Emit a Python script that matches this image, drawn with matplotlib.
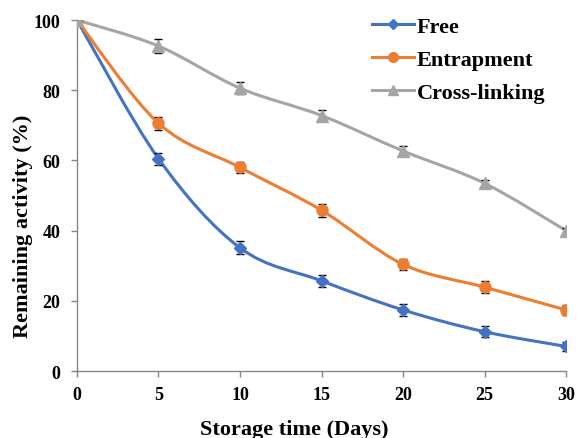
import matplotlib
matplotlib.use("Agg")
import matplotlib.pyplot as plt
import numpy as np
from matplotlib.path import Path
from matplotlib.patches import PathPatch
from matplotlib.lines import Line2D

# data
days = [0, 5, 10, 15, 20, 25, 30]
free = [100, 60.5, 35.1, 25.7, 17.4, 11.2, 7.0]
free_err = [0, 1.7, 1.9, 1.7, 1.6, 1.6, 1.3]
entrap = [100, 70.6, 58.0, 45.8, 30.4, 23.9, 17.4]
entrap_err = [0, 1.8, 1.6, 1.8, 1.6, 1.8, 1.5]
cross = [100, 92.6, 80.6, 72.8, 62.7, 53.5, 40.0]
cross_err = [0, 2.0, 1.8, 1.5, 1.3, 1.0, 0.8]

plt.rcParams['font.family'] = ['Liberation Serif', 'DejaVu Serif']
plt.rcParams['font.weight'] = 'bold'


def smooth_path(x, y):
    # excel-like smoothed line as cubic bezier segments
    x = np.asarray(x, float)
    y = np.asarray(y, float)
    n = len(x)
    verts = [(x[0], y[0])]
    codes = [Path.MOVETO]
    for i in range(n - 1):
        i0 = max(i - 1, 0)
        i3 = min(i + 2, n - 1)
        c1 = (x[i] + (x[i + 1] - x[i0]) / 6, y[i] + (y[i + 1] - y[i0]) / 6)
        c2 = (x[i + 1] - (x[i3] - x[i]) / 6, y[i + 1] - (y[i3] - y[i]) / 6)
        verts += [c1, c2, (x[i + 1], y[i + 1])]
        codes += [Path.CURVE4] * 3
    return Path(verts, codes)


fig = plt.figure(figsize=(5.77, 4.39), dpi=100)
ax = fig.add_axes([0.1334, 0.1526, 0.8476, 0.7994])

series = [
    (free, free_err, '#4472C4', 'D', 6, 'Free'),
    (entrap, entrap_err, '#ED7D31', 'o', 8, 'Entrapment'),
    (cross, cross_err, '#A5A5A5', '^', 8, 'Cross-linking'),
]

handles = []
for vals, err, col, mk, ms, name in series:
    ax.add_patch(PathPatch(smooth_path(days, vals), facecolor='none',
                           edgecolor=col, lw=2.2, zorder=2))
    ax.errorbar(days, vals, yerr=err, fmt='none', ecolor='black',
                elinewidth=1, capsize=3, capthick=1, zorder=3)
    ax.plot(days, vals, linestyle='none', marker=mk, ms=ms, color=col, zorder=4)
    handles.append(Line2D([], [], color=col, lw=2.2, marker=mk, ms=ms - 1, label=name))

ax.set_xlim(0, 30)
ax.set_ylim(0, 100)
ax.set_xticks(days)
ax.set_yticks([0, 20, 40, 60, 80, 100])
ax.tick_params(labelsize=13, color='#868686', length=4, width=1)
ax.tick_params(axis='x', pad=7)
ax.tick_params(axis='y', pad=8)
for s in ['top', 'right']:
    ax.spines[s].set_visible(False)
for s in ['left', 'bottom']:
    ax.spines[s].set_color('#868686')
    ax.spines[s].set_linewidth(1)
for lab in ax.get_xticklabels() + ax.get_yticklabels():
    lab.set_fontweight('bold')

ax.set_xlabel('Storage time (Days)', fontsize=16, fontweight='bold')
ax.set_ylabel('Remaining activity (%)', fontsize=16, fontweight='bold')
ax.xaxis.set_label_coords(0.444, -0.138)
ax.yaxis.set_label_coords(-0.09, 0.416)

leg = ax.legend(handles=handles, loc='upper left', bbox_to_anchor=(0.585, 1.035),
                frameon=False, handlelength=1.9, handletextpad=0.1,
                labelspacing=0.55, borderaxespad=0,
                prop={'weight': 'bold', 'size': 16})

fig.savefig('out.png', dpi=100)
